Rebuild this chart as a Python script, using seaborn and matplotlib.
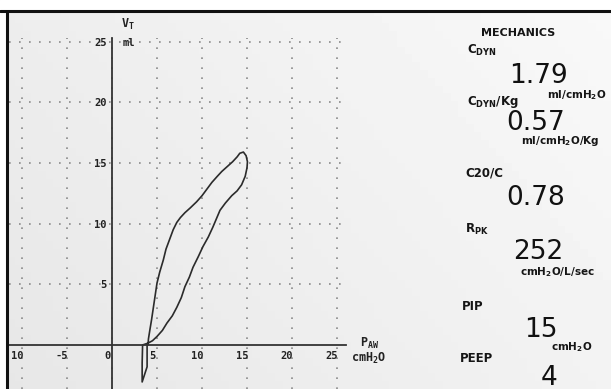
import numpy as np
import pandas as pd
import seaborn as sns
import matplotlib.pyplot as plt
import matplotlib.transforms as mtransforms

# pressure-volume loop (cmH2O, ml)
trigger_p = [3.9, 3.9, 3.35, 3.35, 3.4]
trigger_v = [0.0, -1.8, -3.05, -1.5, 0.0]
insp_p = [4.0, 4.5, 5.0, 5.6, 6.1, 6.7, 7.2, 7.7, 8.1, 8.6, 9.0, 9.6, 10.1, 10.7, 11.2,
          11.6, 12.0, 12.6, 13.3, 13.9, 14.4, 14.8, 15.0, 15.05, 14.9, 14.6]
insp_v = [0.15, 0.35, 0.7, 1.2, 1.8, 2.4, 3.1, 3.9, 4.8, 5.6, 6.4, 7.3, 8.1, 8.9, 9.7,
          10.4, 11.1, 11.7, 12.3, 12.7, 13.2, 13.9, 14.6, 15.1, 15.6, 15.9]
exp_p = [14.2, 13.9, 13.4, 12.8, 12.2, 11.7, 11.1, 10.6, 10.0, 9.4, 8.7, 8.1, 7.6, 7.2,
         6.8, 6.4, 6.0, 5.7, 5.3, 5.0, 4.8, 4.6, 4.4, 4.2, 4.05, 4.0]
exp_v = [15.8, 15.5, 15.1, 14.7, 14.3, 13.9, 13.4, 12.9, 12.3, 11.8, 11.3, 10.9, 10.5, 10.1,
         9.5, 8.7, 7.9, 7.0, 6.0, 5.1, 4.1, 3.1, 2.1, 1.2, 0.5, 0.0]

x_ticks = [-10, -5, 0, 5, 10, 15, 20, 25]
x_ticklabels = ['10', '-5', '0', '5', '10', '15', '20', '25']
y_ticks = [5, 10, 15, 20, 25]

# right hand "MECHANICS" panel
panel_names = [r'C$_{DYN}$', r'C$_{DYN}$/Kg', 'C20/C', r'R$_{PK}$', 'PIP', 'PEEP']
panel_values = ['1.79', '0.57', '0.78', '252', '15', '4']
panel_units = [r'ml/cmH$_2$O', r'ml/cmH$_2$O/Kg', '', r'cmH$_2$O/L/sec', r'cmH$_2$O', '']

W, H = 611, 389

sns.set_style("white")
plt.rcParams['font.family'] = ['DejaVu Sans']
plt.rcParams['mathtext.default'] = 'regular'

fig = plt.figure(figsize=(W / 100, H / 100), dpi=100)
fig.patch.set_facecolor('#ececec')

# soft photo background
bg = fig.add_axes([0, 0, 1, 1], zorder=-5)
gy, gx = np.mgrid[0:1:50j, 0:1:80j]
shade = 0.905 + 0.045 * gx + 0.025 * gy
bg.imshow(shade, cmap='gray', vmin=0, vmax=1, aspect='auto', extent=[0, 1, 0, 1], origin='lower')
bg.set_xlim(0, 1)
bg.set_ylim(0, 1)
bg.axis('off')


def fpos(px, py):
    return px / W, 1 - py / H


# main loop axes, placed so that screen pixels match
ax = fig.add_axes([8.5 / W, 0, (346 - 8.5) / W, (H - 38) / H])
ax.set_facecolor('none')

loop = pd.DataFrame({
    'pressure': trigger_p + insp_p + exp_p,
    'volume': trigger_v + insp_v + exp_v,
})
sns.lineplot(data=loop, x='pressure', y='volume', sort=False, estimator=None,
             color='#2b2b2b', linewidth=1.2, ax=ax)

ax.set_xlim(-11.5, 26)
ax.set_ylim(-3.63, 25.3)
ax.set_xlabel('')
ax.set_ylabel('')

for side in ['top', 'right']:
    ax.spines[side].set_visible(False)
for side in ['left', 'bottom']:
    ax.spines[side].set_position('zero')
    ax.spines[side].set_color('#333333')
    ax.spines[side].set_linewidth(1.3)

ax.set_xticks(x_ticks)
ax.set_xticklabels(x_ticklabels)
ax.set_yticks(y_ticks)
ax.set_yticklabels([str(t) for t in y_ticks])
ax.tick_params(axis='y', length=3, width=1, color='#333333', pad=1,
               labelsize=7.5, labelcolor='#222222')
ax.tick_params(axis='x', length=0, pad=4, labelsize=7.5, labelcolor='#222222')
for lab in ax.get_xticklabels() + ax.get_yticklabels():
    lab.set_fontweight('bold')
    lab.set_family('DejaVu Sans Mono')
shift = mtransforms.ScaledTranslation(-5 / 100, 0, fig.dpi_scale_trans)
for lab in ax.get_xticklabels():
    lab.set_transform(lab.get_transform() + shift)

ax.grid(True, color='#8a8a8a', linestyle=(0, (1, 5)), linewidth=1.2)

lbl = dict(fontweight='bold', family='DejaVu Sans Mono', color='#222222', clip_on=False)
ax.text(1.0, 26.4, r'V$_T$', fontsize=8.5, ha='left', va='center', **lbl)
ax.text(1.2, 24.9, 'ml', fontsize=7.5, ha='left', va='center', **lbl)
ax.text(27.5, 0.1, r'P$_{AW}$', fontsize=8.5, ha='left', va='center', **lbl)
ax.text(26.6, -1.1, r'cmH$_2$O', fontsize=8.5, ha='left', va='center', **lbl)

# screen frame
fig.add_artist(plt.Line2D([0, 1], [1 - 10.5 / H] * 2, color='#111111', lw=2.2))
fig.add_artist(plt.Line2D([6.5 / W] * 2, [0, 1 - 10.5 / H], color='#111111', lw=2.2))
fig.add_artist(plt.Rectangle((0, 1 - 9.5 / H), 1, 9.5 / H, color='white', zorder=-1))
fig.add_artist(plt.Rectangle((0, 0), 5.5 / W, 1, color='white', zorder=-1))

# mechanics panel
txt = dict(color='#151515', family='DejaVu Sans', fontweight='bold')
fig.text(*fpos(518, 33), 'MECHANICS', fontsize=8, ha='center', va='center', **txt)

name_pos = [(467, 50), (467, 102), (465, 173), (465, 229), (462, 307), (460, 359)]
value_pos = [(568, 83), (565, 130), (565, 205), (563, 259), (558, 337), (557, 385)]
unit_pos = [(607, 95), (600, 141), (0, 0), (595, 272), (592, 347), (0, 0)]

for name, (nx, ny) in zip(panel_names, name_pos):
    fig.text(*fpos(nx, ny), name, fontsize=8.5, ha='left', va='center', **txt)
for val, (vx, vy) in zip(panel_values, value_pos):
    fig.text(*fpos(vx, vy), val, fontsize=19, ha='right', va='baseline',
             color='#111111', family='DejaVu Sans')
for unit, (ux, uy) in zip(panel_units, unit_pos):
    if unit:
        fig.text(*fpos(ux, uy), unit, fontsize=7.5, ha='right', va='center', **txt)

fig.savefig('out.png', dpi=100)
